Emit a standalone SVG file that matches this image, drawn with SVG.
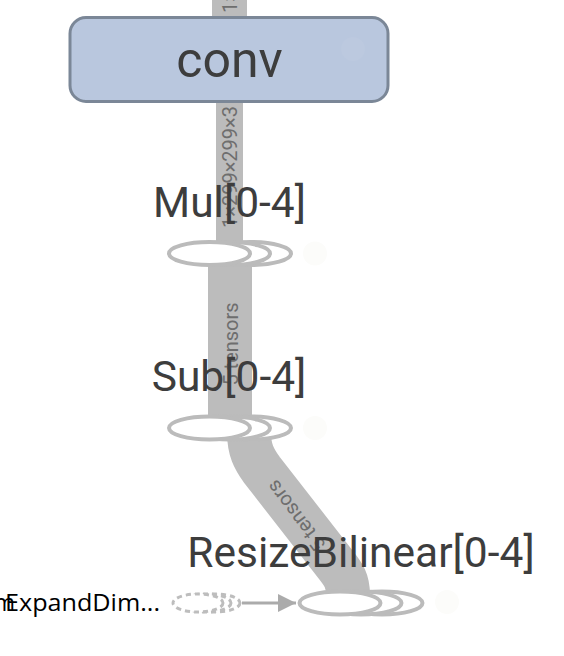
<svg xmlns="http://www.w3.org/2000/svg" width="564" height="656" viewBox="0 0 564 656">
<style>
.band{fill:none;stroke:#bcbcbc}
.elabel{font-family:Roboto,"Liberation Sans",sans-serif;font-size:20px;fill:#6e6e6e}
.nlabel{font-family:Roboto,"Liberation Sans",sans-serif;font-size:42.5px;fill:#3d3d3d;text-anchor:middle}
.big{font-size:50px}
.ell{fill:#ffffff;stroke:#bbbbbb;stroke-width:4}
.dash{fill:#ffffff;stroke:#bdbdbd;stroke-width:3;stroke-dasharray:5 4}
.ghost{fill:#fcfcfa}
.side{font-family:"Open Sans","Noto Sans",sans-serif;font-size:23px;fill:#000000}
</style>
<defs>
<marker id="arr" viewBox="0 0 10 10" refX="10" refY="5" markerWidth="6" markerHeight="6" markerUnits="strokeWidth" orient="auto">
<path d="M0,0 L10,5 L0,10 z" fill="#ababab"/>
</marker>
</defs>
<rect width="564" height="656" fill="#ffffff"/>
<g id="connectors">
<path class="band" d="M229.5,-5 L229.5,30" stroke-width="35"/>
<text class="elabel" transform="translate(229.5,13) rotate(-90)" dy="0.35em">1×</text>
<path class="band" d="M229.5,95 L229.5,246" stroke-width="27"/>
<text class="elabel" transform="translate(229.5,228) rotate(-90)" dy="0.35em">1×299×299×3</text>
<path class="band" d="M230,258 L230,422" stroke-width="44"/>
<text class="elabel" transform="translate(231,344) rotate(-90)" dy="0.35em" text-anchor="middle">5 tensors</text>
<path class="band" d="M249,432 C249,450 254,459 262,470 L336,565 C343,574 348,580 348,595" stroke-width="44"/>
<text class="elabel" transform="translate(296,516) rotate(233)" dy="0.35em" text-anchor="middle">5 tensors</text>
<line x1="242" y1="603" x2="296" y2="603" stroke="#ababab" stroke-width="3" marker-end="url(#arr)"/>
</g>
<g id="node-conv">
<rect x="70" y="17.5" width="318" height="84" rx="16" fill="#b9c7de" stroke="#7b8797" stroke-width="3"/>
<circle cx="353" cy="49" r="12" fill="#bcc9df"/>
<text class="nlabel big" x="229.5" y="77">conv</text>
</g>
<g id="node-mul">
<ellipse class="ell" cx="250.5" cy="253.5" rx="40.5" ry="11.5"/>
<ellipse class="ell" cx="229.5" cy="253.5" rx="40.5" ry="11.5"/>
<ellipse class="ell" cx="209.5" cy="253.5" rx="40.5" ry="11.5"/>
<circle class="ghost" cx="315" cy="253.5" r="12"/>
<text class="nlabel" x="229.5" y="217">Mul[0-4]</text>
</g>
<g id="node-sub">
<ellipse class="ell" cx="250.5" cy="428" rx="40.5" ry="11.5"/>
<ellipse class="ell" cx="229.5" cy="428" rx="40.5" ry="11.5"/>
<ellipse class="ell" cx="209.5" cy="428" rx="40.5" ry="11.5"/>
<circle class="ghost" cx="315" cy="428" r="12"/>
<text class="nlabel" x="229" y="391">Sub[0-4]</text>
</g>
<g id="node-resize">
<ellipse class="ell" cx="382" cy="603" rx="40.5" ry="11.5"/>
<ellipse class="ell" cx="361" cy="603" rx="40.5" ry="11.5"/>
<ellipse class="ell" cx="340" cy="603" rx="40.5" ry="11.5"/>
<circle class="ghost" cx="447" cy="602" r="12"/>
<text class="nlabel" x="361" y="567">ResizeBilinear[0-4]</text>
</g>
<g id="node-expanddims">
<ellipse class="dash" cx="215" cy="603" rx="25" ry="9"/>
<ellipse class="dash" cx="206" cy="603" rx="25" ry="9"/>
<ellipse class="dash" cx="198" cy="603" rx="25" ry="9"/>
<text class="side" x="15" y="611" text-anchor="end">m</text>
<text class="side" x="5" y="611" textLength="155" lengthAdjust="spacingAndGlyphs">ExpandDim...</text>
</g>
</svg>
